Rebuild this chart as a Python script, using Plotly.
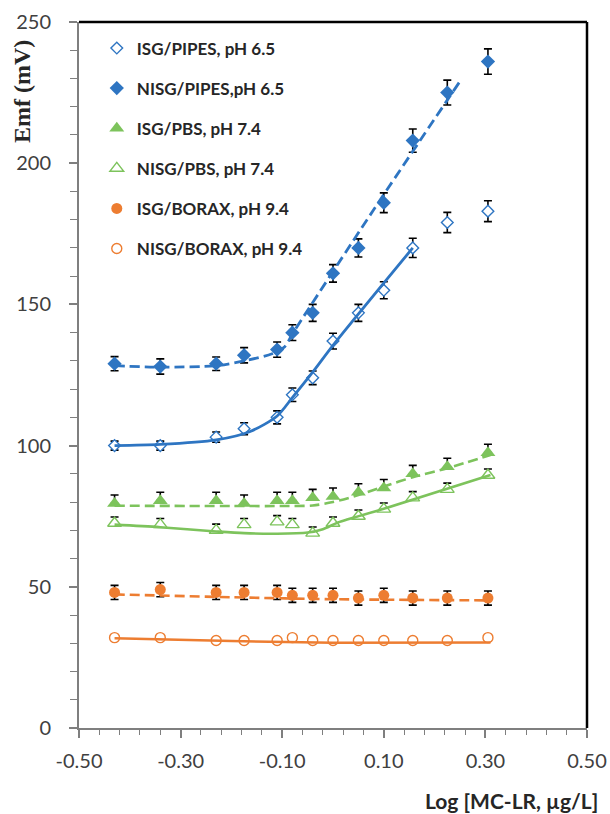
import plotly.graph_objects as go

# ---------------- data ----------------
log_c = [-0.43, -0.34, -0.23, -0.175, -0.11, -0.08, -0.04, 0.0, 0.05, 0.10, 0.157, 0.225, 0.305]

isg_pipes = [100, 100, 103, 106, 110, 118, 124, 137, 147, 155, 170, 179, 183]
isg_pipes_err = [1.6, 1.6, 1.8, 2.1, 2.3, 2.4, 2.4, 2.8, 3.0, 3.0, 3.4, 3.6, 3.7]

nisg_pipes = [129, 128, 129, 132, 134, 140, 147, 161, 170, 186, 208, 225, 236]
nisg_pipes_err = [2.5, 2.7, 2.4, 2.7, 2.7, 2.8, 3.0, 3.1, 3.2, 3.5, 4.1, 4.4, 4.5]

isg_pbs = [79.5, 80.5, 80.5, 79.5, 80.5, 80.5, 81.5, 82, 83.5, 85, 90, 92.5, 97.5]
isg_pbs_err = [3.0] * 13

nisg_pbs = [72.5, 72, 70, 72, 73, 72, 69, 72.5, 75, 77.5, 81.5, 84.5, 89.5]
nisg_pbs_err = [2.2] * 13

isg_borax = [48, 49, 48, 48, 48, 47, 47, 47, 46, 47, 46, 46, 46]
isg_borax_err = [2.5] * 13

nisg_borax = [32, 32, 31, 31, 31, 32, 31, 31, 31, 31, 31, 31, 32]

# fitted curves (trend lines)
fit_isg_pipes_x = [-0.43, -0.34, -0.23, -0.163, -0.11, -0.08, -0.04, 0.0, 0.157]
fit_isg_pipes_y = [100, 100.4, 102, 105, 110.5, 117, 126, 135.5, 170]

fit_nisg_pipes_x = [-0.43, -0.34, -0.23, -0.175, -0.12, -0.095, -0.08, 0.08, 0.25]
fit_nisg_pipes_y = [128.3, 127.8, 128.3, 130, 132.5, 135, 139.5, 183.5, 229]

fit_isg_pbs_x = [-0.43, -0.2, -0.1, -0.04, 0.0, 0.05, 0.10, 0.157, 0.225, 0.31]
fit_isg_pbs_y = [78.7, 78.6, 78.6, 78.8, 80, 82.5, 85.5, 88.8, 92, 96.7]

fit_nisg_pbs_x = [-0.43, -0.34, -0.23, -0.175, -0.11, -0.05, -0.02, 0.01, 0.1, 0.31]
fit_nisg_pbs_y = [72, 71.1, 69.6, 69.0, 68.8, 69.2, 70.4, 72.8, 77.6, 89.6]

fit_isg_borax_x = [-0.43, -0.2, 0.0, 0.31]
fit_isg_borax_y = [47.3, 46.3, 45.6, 45.2]

fit_nisg_borax_x = [-0.43, -0.2, 0.0, 0.31]
fit_nisg_borax_y = [31.8, 30.8, 30.2, 30.3]

x_ticks = [-0.5, -0.3, -0.1, 0.1, 0.3, 0.5]
x_tick_labels = ["-0.50", "-0.30", "-0.10", "0.10", "0.30", "0.50"]
y_ticks = [0, 50, 100, 150, 200, 250]
y_tick_labels = ["0", "50", "100", "150", "200", "250"]

# ---------------- styling ----------------
BLUE = "#2E75C2"
GREEN = "#7DC35C"
ORANGE = "#ED7D31"
DASH = "10px,5px"

fig = go.Figure()


def err(arr, plus_only=False):
    d = dict(type="data", array=arr, color="black", thickness=1.6, width=4, visible=True)
    if plus_only:
        d.update(symmetric=False, arrayminus=[0] * len(arr))
    return d


series = [
    ("ISG/PIPES, pH 6.5", isg_pipes, isg_pipes_err, "diamond", 9, "white", BLUE, 1.4, False),
    ("NISG/PIPES,pH 6.5", nisg_pipes, nisg_pipes_err, "diamond", 11, BLUE, BLUE, 0, False),
    ("ISG/PBS, pH 7.4", isg_pbs, isg_pbs_err, "triangle-up", 13, GREEN, GREEN, 0, True),
    ("NISG/PBS, pH 7.4", nisg_pbs, nisg_pbs_err, "triangle-up", 12, "white", GREEN, 1.4, True),
    ("ISG/BORAX, pH 9.4", isg_borax, isg_borax_err, "circle", 11, ORANGE, ORANGE, 0, False),
    ("NISG/BORAX, pH 9.4", nisg_borax, None, "circle", 10, "white", ORANGE, 1.4, False),
]

for i, (name, ys, es, sym, size, fill, lc, lw, plus_only) in enumerate(series):
    fig.add_trace(go.Scatter(
        x=log_c, y=ys, mode="markers", name=name,
        legendgroup=f"g{i}",
        marker=dict(symbol=sym, size=size, color=fill, line=dict(color=lc, width=lw)),
        error_y=err(es, plus_only) if es is not None else None,
    ))

fits = [
    (fit_isg_pipes_x, fit_isg_pipes_y, BLUE, "solid", 2.8),
    (fit_nisg_pipes_x, fit_nisg_pipes_y, BLUE, DASH, 2.8),
    (fit_isg_pbs_x, fit_isg_pbs_y, GREEN, DASH, 2.6),
    (fit_nisg_pbs_x, fit_nisg_pbs_y, GREEN, "solid", 2.6),
    (fit_isg_borax_x, fit_isg_borax_y, ORANGE, DASH, 2.6),
    (fit_nisg_borax_x, fit_nisg_borax_y, ORANGE, "solid", 2.6),
]
for fx, fy, c, dash, w in fits:
    fig.add_trace(go.Scatter(
        x=fx, y=fy, mode="lines", showlegend=False, hoverinfo="skip",
        line=dict(color=c, width=w, dash=dash, shape="spline", smoothing=0.8),
    ))

TICKFONT = dict(family="Lato", size=20, color="#404040")

fig.update_layout(
    width=610, height=814,
    margin=dict(l=79, r=23, t=22, b=86, autoexpand=False),
    paper_bgcolor="white", plot_bgcolor="white",
    showlegend=True,
    legend=dict(
        x=0.035, y=0.988, xanchor="left", yanchor="top",
        font=dict(family="Lato", size=17, color="#262626", weight="bold"),
        tracegroupgap=15, bgcolor="rgba(0,0,0,0)",
        itemsizing="trace",
    ),
    xaxis=dict(
        range=[-0.5, 0.5], tickvals=x_ticks, ticktext=x_tick_labels,
        automargin=False,
        showgrid=False, zeroline=False,
        showline=True, linecolor="#7F7F7F", linewidth=2,
        ticks="outside", ticklen=8, tickwidth=1.5, tickcolor="#7F7F7F",
        ticklabelstandoff=6,
        minor=dict(ticks="outside", dtick=0.04, tick0=-0.5, ticklen=5, tickwidth=1.2,
                   tickcolor="#7F7F7F", showgrid=False),
        tickfont=TICKFONT,
    ),
    yaxis=dict(
        range=[0, 250], tickvals=y_ticks, ticktext=y_tick_labels,
        automargin=False,
        showgrid=False, zeroline=False,
        showline=True, linecolor="#7F7F7F", linewidth=2,
        ticks="outside", ticklen=8, tickwidth=1.5, tickcolor="#7F7F7F",
        ticklabelstandoff=14,
        minor=dict(ticks="outside", dtick=10, tick0=0, ticklen=7, tickwidth=1.2,
                   tickcolor="#7F7F7F", showgrid=False),
        tickfont=TICKFONT,
    ),
    shapes=[
        dict(type="line", xref="paper", yref="paper", x0=0, x1=1, y0=1, y1=1,
             line=dict(color="black", width=2.5)),
        dict(type="line", xref="paper", yref="paper", x0=1, x1=1, y0=0, y1=1,
             line=dict(color="black", width=2.5)),
    ],
    annotations=[
        dict(text="<b>Emf (mV)</b>", xref="paper", yref="paper",
             x=(22 - 79) / 508, y=(728 - 92) / 706, xanchor="center", yanchor="middle",
             textangle=-90, showarrow=False,
             font=dict(family="Liberation Serif", size=24, color="#262626")),
        dict(text="<b>Log [MC-LR, µg/L]</b>", xref="paper", yref="paper",
             x=(600 - 79) / 508, y=(728 - 800) / 706, xanchor="right", yanchor="middle",
             showarrow=False,
             font=dict(family="Lato", size=21, color="#262626")),
    ],
)

# remove the browser's default 8px body margin so the figure fills the window exactly
fig.write_html("out.html",
               config={"displayModeBar": False},
               post_script="document.body.style.margin='0';document.body.style.overflow='hidden';")
